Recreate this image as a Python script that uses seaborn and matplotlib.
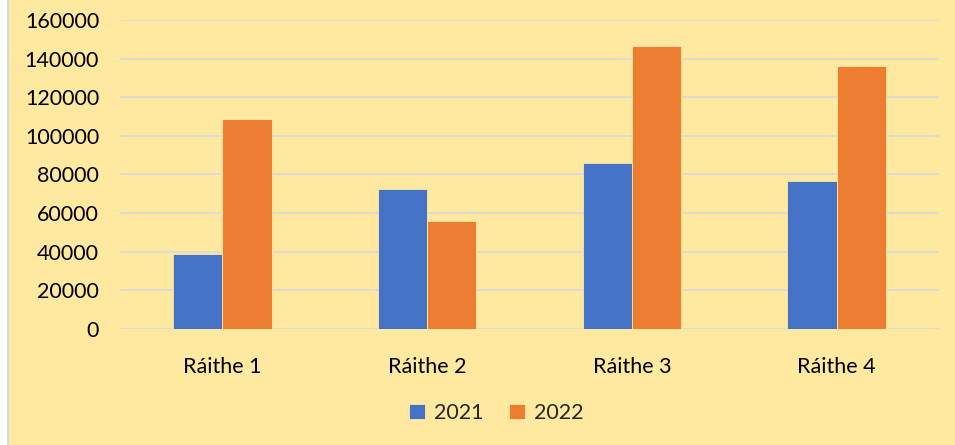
import numpy as np
import pandas as pd
import seaborn as sns
import matplotlib.pyplot as plt
from matplotlib.patches import Rectangle

# data
quarters = ["Ráithe 1", "Ráithe 2", "Ráithe 3", "Ráithe 4"]
years = ["2021", "2022"]
vals_2021 = [39000, 72700, 86000, 76800]
vals_2022 = [108800, 56000, 146500, 136200]

df = pd.DataFrame({
    "quarter": quarters * 2,
    "year": [years[0]] * 4 + [years[1]] * 4,
    "value": vals_2021 + vals_2022,
})

bg = "#FFE89F"
sns.set_style("white")
plt.rcParams["font.family"] = ["Lato", "DejaVu Sans"]

fig = plt.figure(figsize=(9.55, 4.45), dpi=100, facecolor="white")
# yellow chart area with a thin grey left edge
fig.patches.append(Rectangle((7 / 955, 0), 1, 1, transform=fig.transFigure,
                             facecolor=bg, edgecolor="none", zorder=-2))
fig.patches.append(Rectangle((7 / 955, 0), 1.5 / 955, 1, transform=fig.transFigure,
                             facecolor="#D9D9D9", edgecolor="none", zorder=-1))

ax = fig.add_axes([120 / 955, (445 - 329) / 445, (939 - 120) / 955, (329 - 20) / 445])
ax.set_facecolor(bg)

sns.barplot(data=df, x="quarter", y="value", hue="year",
            palette=["#4472C4", "#ED7D31"], saturation=1, width=0.48, gap=0,
            edgecolor=bg, linewidth=0.6, ax=ax)

ax.set_ylim(0, 160000)
ax.set_xlim(-0.5, 3.5)
ax.set_yticks(np.arange(0, 160001, 20000))
ax.set_yticklabels([str(v) for v in range(0, 160001, 20000)])
ax.yaxis.grid(True, color="#D9D9D9", linewidth=1.3)
ax.set_axisbelow(True)
for s in ax.spines.values():
    s.set_visible(False)
ax.tick_params(axis="both", length=0, labelsize=15.5, colors="black")
ax.tick_params(axis="y", pad=15)
ax.tick_params(axis="x", pad=20)
ax.set_xlabel("")
ax.set_ylabel("")

ax.legend(loc="center", bbox_to_anchor=(496 / 955, (445 - 413) / 445),
          bbox_transform=fig.transFigure, ncol=2, frameon=False,
          fontsize=15.5, handlelength=0.75, handleheight=0.75,
          handletextpad=0.4, columnspacing=1.2)

fig.savefig("out.png", dpi=100, facecolor="white")
